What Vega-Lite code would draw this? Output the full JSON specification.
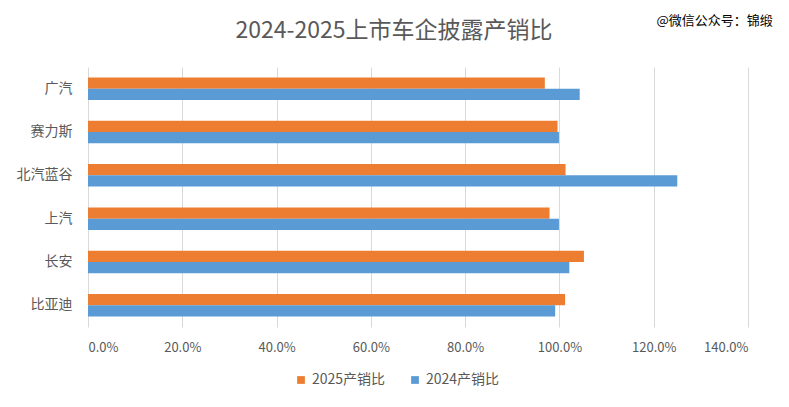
{
  "$schema": "https://vega.github.io/schema/vega-lite/v6.json",
  "width": 660,
  "height": 260,
  "autosize": "none",
  "padding": {"left": 88, "top": 67, "right": 41, "bottom": 80},
  "background": "white",
  "title": {
    "text": "2024-2025上市车企披露产销比",
    "fontSize": 23,
    "font": "Noto Sans CJK SC",
    "fontWeight": "normal",
    "color": "#595959",
    "anchor": "middle",
    "frame": "group",
    "dx": -24,
    "offset": -29
  },
  "data": {
    "values": [
      {"company": "广汽", "series": "2025产销比", "ratio": 0.969},
      {"company": "广汽", "series": "2024产销比", "ratio": 1.043},
      {"company": "赛力斯", "series": "2025产销比", "ratio": 0.996},
      {"company": "赛力斯", "series": "2024产销比", "ratio": 0.999},
      {"company": "北汽蓝谷", "series": "2025产销比", "ratio": 1.013},
      {"company": "北汽蓝谷", "series": "2024产销比", "ratio": 1.25},
      {"company": "上汽", "series": "2025产销比", "ratio": 0.979},
      {"company": "上汽", "series": "2024产销比", "ratio": 0.999},
      {"company": "长安", "series": "2025产销比", "ratio": 1.052},
      {"company": "长安", "series": "2024产销比", "ratio": 1.021},
      {"company": "比亚迪", "series": "2025产销比", "ratio": 1.012},
      {"company": "比亚迪", "series": "2024产销比", "ratio": 0.991}
    ]
  },
  "mark": {"type": "bar"},
  "encoding": {
    "y": {
      "field": "company",
      "type": "nominal",
      "sort": ["广汽", "赛力斯", "北汽蓝谷", "上汽", "长安", "比亚迪"],
      "scale": {"paddingInner": 0.48, "paddingOuter": 0.24},
      "axis": {
        "title": "@微信公众号：锦缎",
        "titleAngle": 0,
        "titleX": 568,
        "titleY": -47,
        "titleAlign": "left",
        "titleBaseline": "middle",
        "titleFontSize": 13,
        "titleFontWeight": "normal",
        "titleColor": "#000000",
        "titleFont": "Noto Sans CJK SC",
        "domain": false,
        "ticks": false,
        "labelPadding": 16,
        "labelFontSize": 14,
        "labelColor": "#595959",
        "labelFont": "Noto Sans CJK SC"
      }
    },
    "yOffset": {
      "field": "series",
      "type": "nominal",
      "sort": ["2025产销比", "2024产销比"]
    },
    "x": {
      "field": "ratio",
      "type": "quantitative",
      "scale": {"domain": [0, 1.4], "nice": false},
      "axis": {
        "title": null,
        "format": ".1%",
        "values": [0, 0.2, 0.4, 0.6, 0.8, 1.0, 1.2, 1.4],
        "domain": false,
        "ticks": false,
        "labelPadding": 14,
        "labelFontSize": 13,
        "labelColor": "#595959",
        "labelFont": "Noto Sans CJK SC",
        "gridColor": "#d9d9d9",
        "gridWidth": 1
      }
    },
    "color": {
      "field": "series",
      "type": "nominal",
      "scale": {"domain": ["2025产销比", "2024产销比"], "range": ["#ED7D31", "#5B9BD5"]},
      "legend": {
        "title": null,
        "orient": "none",
        "direction": "horizontal",
        "legendX": 206,
        "legendY": 306,
        "symbolType": "square",
        "symbolSize": 60,
        "symbolStrokeWidth": 0,
        "labelFontSize": 14,
        "labelColor": "#595959",
        "labelFont": "Noto Sans CJK SC",
        "columnPadding": 22
      }
    }
  },
  "config": {
    "view": {"stroke": null}
  }
}
